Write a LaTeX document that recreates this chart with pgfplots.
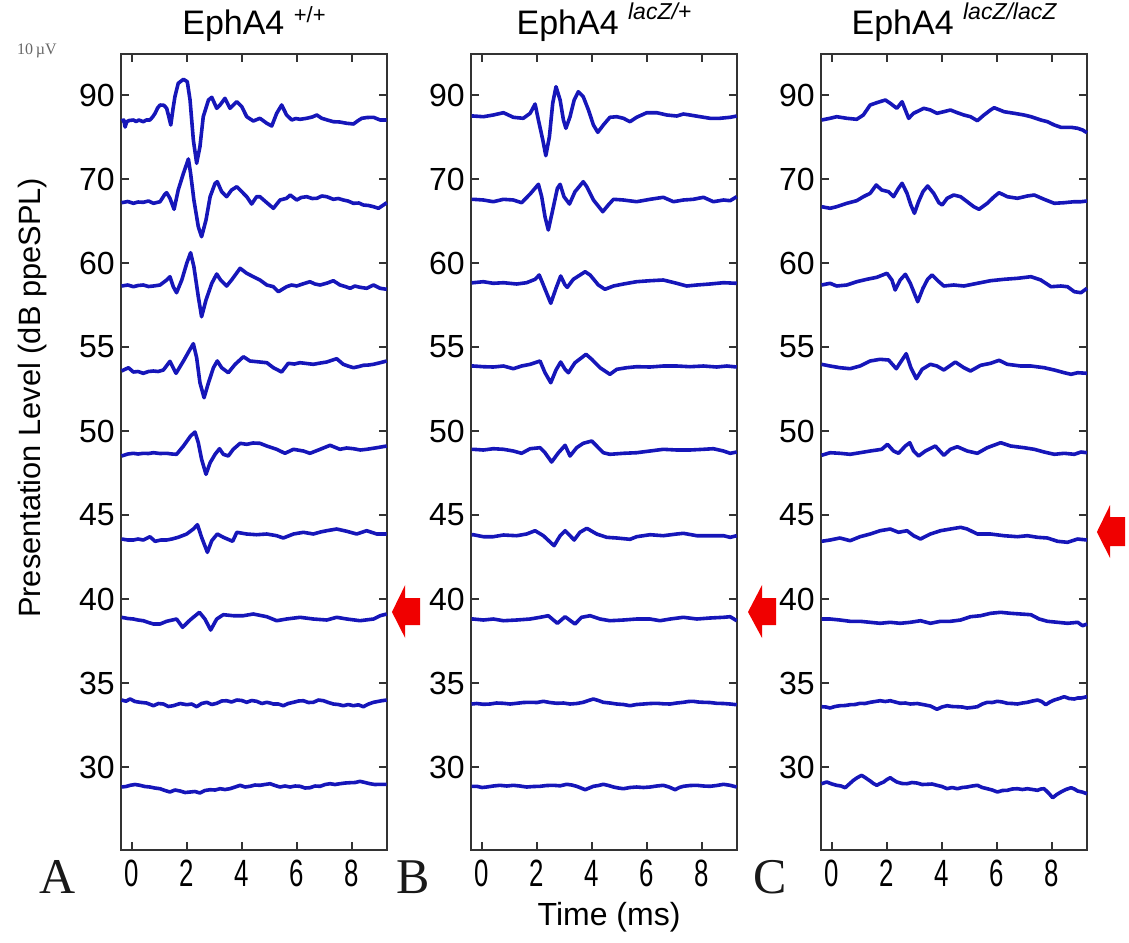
\documentclass[border=0pt]{standalone}
\usepackage{pgfplots}
\pgfplotsset{compat=1.18}
\usepackage{fontspec}
\setmainfont{Liberation Sans}
\newfontfamily\serif{Liberation Serif}
\definecolor{trace}{RGB}{22,22,185}
\definecolor{arrowred}{RGB}{240,0,0}
\newcommand{\sq}[1]{\scalebox{0.68}[1]{#1}}

\pgfplotsset{
  abr/.style={
    width=133pt, height=398pt, scale only axis,
    xmin=-0.4, xmax=9.27, ymin=-83, ymax=713,
    xtick={0,2,4,6,8},
    xticklabels={\sq{0},\sq{2},\sq{4},\sq{6},\sq{8}},
    ytick={0,84,168,252,336,420,504,588,672},
    yticklabels={30,35,40,45,50,55,60,70,90},
    tick align=inside, tick pos=both,
    major tick length=4pt,
    axis line style={black!80, line width=0.8pt},
    tick style={black!80, line width=0.7pt},
    xticklabel style={font=\fontsize{19}{22}\selectfont, inner sep=0pt, yshift=-5pt},
    yticklabel style={font=\fontsize{16}{19}\selectfont, inner sep=0pt, xshift=-3pt},
    title style={at={(0.5,1)}, anchor=base, yshift=4pt, font=\fontsize{17}{20}\selectfont},
    clip=false,
  },
  lvl/.style={color=trace, line width=1.8pt, line join=round, mark=none, y filter/.expression={y+#1}},
}

\begin{document}
\begin{tikzpicture}
\useasboundingbox (0,0) rectangle (564.5pt,-471pt);

% ---- panel A: EphA4 +/+
\begin{axis}[abr, name=A, at={(60.5pt,-27pt)}, anchor=north west,
  title={EphA4 \raisebox{6pt}{\fontsize{11}{13}\selectfont +/+}},
  ylabel={Presentation Level (dB ppeSPL)},
  ylabel style={at={(axis description cs:-0.331,0.568)}, anchor=center, font=\fontsize{15.4}{18}\selectfont},
]
\addplot[lvl=672] coordinates {(-0.38,-26)(-0.3,-25)(-0.25,-32)(-0.19,-26.7)(-0.1,-25.5)(0.05,-25)(0.15,-26.5)(0.25,-25)(0.41,-26.7)(0.52,-25)(0.65,-25)(0.75,-22)(0.84,-18.3)(0.93,-13)(1.02,-10)(1.16,-10.3)(1.26,-13.3)(1.34,-22)(1.41,-30)(1.49,-14)(1.56,-1.7)(1.68,11.7)(1.87,15.7)(2.01,13.3)(2.11,-5)(2.23,-45)(2.35,-68.3)(2.47,-51.7)(2.59,-21.7)(2.78,-5)(2.90,-2.3)(3.08,-13.3)(3.20,-10)(3.38,-3.3)(3.56,-13.3)(3.81,-6.7)(3.99,-11.7)(4.17,-21.7)(4.41,-26)(4.65,-23.3)(4.90,-28.3)(5.08,-31)(5.26,-18.3)(5.44,-10)(5.62,-20)(5.81,-25)(5.95,-23.5)(6.11,-24.3)(6.35,-23.3)(6.55,-22)(6.72,-20)(6.90,-23.3)(7.1,-25)(7.32,-26.7)(7.55,-27)(7.81,-28.3)(8.05,-29)(8.2,-26)(8.35,-23.3)(8.55,-22.5)(8.78,-22.3)(9.02,-25)(9.26,-25)};
\addplot[lvl=588] coordinates {(-0.38,-23.7)(-0.15,-22.5)(0.05,-24.3)(0.22,-23)(0.41,-23.3)(0.6,-22)(0.78,-24.3)(1.02,-22.7)(1.20,-15)(1.26,-13.7)(1.38,-19.3)(1.53,-30.3)(1.68,-11)(1.87,5.7)(2.05,20)(2.13,5.7)(2.25,-21)(2.41,-47.7)(2.53,-57.7)(2.69,-41)(2.84,-17.7)(3.02,-4.3)(3.10,-2.7)(3.26,-12.7)(3.44,-17.7)(3.62,-11)(3.81,-7.7)(3.99,-12.7)(4.17,-17.7)(4.35,-25)(4.53,-17.7)(4.65,-17.7)(4.90,-23.7)(5.14,-29.3)(5.38,-21)(5.62,-19.3)(5.75,-16)(5.99,-21)(6.15,-18.5)(6.35,-17.7)(6.55,-19.5)(6.72,-19.3)(6.9,-17)(7.08,-17.7)(7.32,-20.3)(7.5,-19.5)(7.68,-21)(7.85,-22)(8.05,-24.3)(8.25,-24)(8.41,-26)(8.6,-26.5)(8.78,-27.7)(8.96,-29.3)(9.14,-26)(9.26,-23.7)};
\addplot[lvl=504] coordinates {(-0.38,-23)(-0.15,-22)(0.05,-23.7)(0.22,-22.5)(0.41,-22)(0.6,-23.5)(0.78,-23)(1.02,-22)(1.26,-17)(1.38,-13.7)(1.50,-23.7)(1.62,-29.7)(1.81,-17)(1.99,-0.3)(2.13,10.3)(2.25,-3.7)(2.41,-33.7)(2.53,-53.7)(2.69,-37)(2.90,-20.3)(3.08,-11)(3.22,-17)(3.44,-23)(3.62,-17)(3.93,-5.3)(4.17,-10.3)(4.41,-13.7)(4.65,-17)(4.90,-22)(5.14,-23.7)(5.32,-28.7)(5.62,-23.7)(5.8,-22)(5.99,-23)(6.2,-21)(6.47,-18.7)(6.65,-21)(6.84,-22)(7.1,-20)(7.32,-17.7)(7.56,-22)(7.75,-23.5)(7.93,-25.3)(8.1,-23)(8.29,-24.3)(8.53,-25.3)(8.78,-22)(9.02,-25.3)(9.26,-26.3)};
\addplot[lvl=420] coordinates {(-0.38,-24)(-0.13,-20.7)(0.05,-25)(0.22,-24.5)(0.41,-26.3)(0.6,-24.5)(0.78,-24)(0.95,-24.5)(1.14,-23)(1.38,-14.3)(1.60,-26.3)(1.87,-14)(2.11,-2.3)(2.23,3.3)(2.35,-10.7)(2.47,-35.7)(2.62,-50.7)(2.78,-35.7)(2.96,-20.7)(3.10,-14)(3.26,-20.7)(3.50,-25.7)(3.75,-17.3)(4.05,-9.7)(4.29,-14)(4.65,-15)(4.90,-15.7)(5.14,-20.7)(5.44,-25)(5.68,-16.3)(5.9,-17)(6.11,-15.7)(6.35,-16.5)(6.59,-17.3)(6.85,-16)(7.08,-15)(7.44,-11.7)(7.68,-17.3)(7.85,-19)(8.05,-20.7)(8.25,-19.5)(8.41,-18.3)(8.6,-18)(8.78,-17.3)(9.02,-15.7)(9.26,-14)};
\addplot[lvl=336] coordinates {(-0.38,-25)(-0.15,-23)(0.05,-22.3)(0.22,-23)(0.41,-22.3)(0.6,-22.5)(0.78,-21.7)(1.02,-22.5)(1.26,-22.3)(1.45,-23)(1.62,-23.3)(1.87,-15)(2.13,-5)(2.29,-1)(2.41,-11.7)(2.53,-28.3)(2.69,-43.3)(2.84,-31.7)(3.02,-23.3)(3.18,-17.7)(3.32,-23.3)(3.50,-25)(3.68,-18.3)(3.93,-12.3)(4.17,-13.3)(4.4,-12)(4.65,-12.3)(4.90,-15)(5.26,-18.3)(5.56,-22.3)(5.87,-18.3)(6.23,-20)(6.47,-22.3)(6.84,-18.3)(7.20,-14.3)(7.56,-18.3)(7.8,-17)(8.05,-17.7)(8.3,-19)(8.53,-18.3)(8.90,-16.7)(9.26,-15)};
\addplot[lvl=252] coordinates {(-0.38,-24)(-0.15,-25)(0.05,-25)(0.22,-24)(0.41,-25)(0.65,-21.7)(0.84,-26.3)(1.05,-25)(1.26,-25)(1.45,-24)(1.68,-22.3)(1.99,-19)(2.23,-14)(2.38,-9.7)(2.53,-22.3)(2.74,-37.3)(2.90,-25.7)(3.10,-19)(3.32,-22.3)(3.66,-26.3)(3.81,-17.3)(4.17,-19)(4.53,-19.7)(4.90,-19)(5.26,-20.7)(5.50,-23)(5.87,-19)(6.23,-17.3)(6.59,-19)(6.85,-17)(7.08,-15.7)(7.44,-14)(7.81,-16.3)(8.17,-19)(8.53,-15.7)(8.90,-19)(9.26,-19)};
\addplot[lvl=168] coordinates {(-0.38,-18.3)(-0.15,-19.5)(0.05,-20)(0.22,-21)(0.41,-21.7)(0.6,-23.5)(0.78,-25)(1.02,-25)(1.26,-22.3)(1.62,-20)(1.84,-28.3)(2.11,-21)(2.45,-13.3)(2.65,-20)(2.86,-31)(3.08,-20)(3.32,-15.7)(3.68,-16.7)(4.05,-16.7)(4.41,-15)(4.90,-17.7)(5.26,-21.7)(5.62,-20)(6.11,-18.3)(6.59,-20)(7.08,-21)(7.44,-18.3)(7.81,-20)(8.29,-21.7)(8.78,-20)(9.02,-16.7)(9.26,-15)};
\addplot[lvl=84] coordinates {(-0.38,-17)(-0.22,-18.2)(-0.07,-16)(0.11,-18.5)(0.29,-19.3)(0.53,-20)(0.78,-22.7)(0.96,-20.5)(1.14,-21)(1.32,-23.5)(1.50,-22.7)(1.75,-20.5)(1.99,-21.7)(2.17,-21)(2.35,-23.7)(2.53,-20.5)(2.72,-19.3)(2.9,-21.5)(3.08,-20.3)(3.26,-18)(3.44,-17.7)(3.62,-19)(3.81,-17)(3.99,-17.5)(4.17,-19.3)(4.35,-17.5)(4.53,-18.3)(4.72,-20.5)(4.90,-19.3)(5.02,-20)(5.14,-21)(5.32,-21)(5.50,-22.7)(5.68,-20.5)(5.87,-19.3)(6.05,-18)(6.23,-17.7)(6.41,-19.5)(6.59,-19.3)(6.78,-17)(6.96,-17.7)(7.14,-19.5)(7.32,-21)(7.5,-21.5)(7.68,-22.7)(7.86,-21.5)(8.05,-22.7)(8.23,-21.8)(8.41,-23.7)(8.6,-21)(8.78,-19.3)(8.93,-18.5)(9.08,-17.7)(9.26,-17)};
\addplot[lvl=0] coordinates {(-0.38,-20)(-0.22,-19.5)(-0.07,-18.3)(0.11,-17.5)(0.29,-18.3)(0.47,-19.5)(0.65,-20)(0.83,-21)(1.02,-21.7)(1.2,-23.5)(1.38,-25)(1.56,-23)(1.75,-24)(1.93,-25.5)(2.11,-25)(2.29,-24.5)(2.47,-26)(2.65,-23.5)(2.84,-22.7)(3.02,-23)(3.20,-21.7)(3.38,-22.5)(3.56,-21.7)(3.75,-20)(3.93,-18.3)(4.11,-20)(4.29,-19.3)(4.47,-18)(4.65,-18.3)(4.83,-17.5)(5.02,-16.7)(5.2,-18.5)(5.38,-20)(5.56,-19)(5.75,-20)(5.93,-19)(6.11,-19.3)(6.29,-21)(6.47,-20.7)(6.65,-19)(6.84,-19.3)(7.02,-17.5)(7.20,-16.7)(7.38,-17.5)(7.56,-16.7)(7.75,-16)(7.93,-15.7)(8.11,-15.5)(8.29,-14.3)(8.47,-15.5)(8.65,-16.7)(8.83,-17.5)(9.02,-17.3)(9.26,-17.3)};
\fill[arrowred] (axis cs:9.45,155) -- (axis cs:9.93,182) -- (axis cs:9.93,169) -- (axis cs:10.47,169) -- (axis cs:10.47,142) -- (axis cs:9.93,142) -- (axis cs:9.93,129) -- cycle;
\node[font=\serif\fontsize{25}{28}\selectfont, text=black!90] at (axis description cs:-0.237,-0.034) {A};
\node[font=\serif\fontsize{8}{9}\selectfont, text=black!60] at (axis description cs:-0.316,1.004) {10\,µV};
\end{axis}

% ---- panel B: EphA4 lacZ/+
\begin{axis}[abr, name=B, at={(235.5pt,-27pt)}, anchor=north west,
  title={EphA4 \raisebox{7.5pt}{\fontsize{11.5}{13}\selectfont\itshape lacZ/+}},
  xlabel={Time (ms)},
  xlabel style={at={(axis description cs:0.519,-0.0842)}, anchor=center, font=\fontsize{16}{19}\selectfont},
]
\addplot[lvl=672] coordinates {(-0.38,-21)(-0.32,-21)(0.05,-21.7)(0.41,-20)(0.78,-17.7)(1.14,-22.3)(1.50,-23.3)(1.75,-18.3)(1.93,-9)(2.05,-25)(2.21,-45)(2.32,-60.7)(2.45,-41.7)(2.57,-8.3)(2.69,8.3)(2.84,-5)(2.96,-25)(3.05,-33.3)(3.20,-21.7)(3.35,-5)(3.50,3.3)(3.68,-1.7)(3.87,-15)(4.05,-30)(4.21,-37.3)(4.41,-30)(4.65,-22.3)(4.90,-21.7)(5.14,-23.3)(5.38,-26.7)(5.62,-22.3)(5.99,-17.7)(6.35,-17.7)(6.72,-20)(7.08,-21)(7.32,-19)(7.56,-20)(7.93,-21.7)(8.29,-23.3)(8.65,-23.3)(9.02,-22.3)(9.26,-21)};
\addplot[lvl=588] coordinates {(-0.38,-20.3)(-0.32,-20.3)(0.05,-21)(0.41,-22.7)(0.78,-20.3)(1.14,-21)(1.44,-23.7)(1.75,-15)(2.05,-5.3)(2.17,-17.7)(2.29,-37.7)(2.41,-51)(2.57,-31)(2.74,-9.3)(2.84,-5.3)(2.98,-17.7)(3.18,-25)(3.38,-12.7)(3.68,-2.7)(3.81,-7.7)(4.05,-21)(4.39,-32.7)(4.59,-26)(4.78,-20.3)(5.14,-21)(5.62,-22.7)(6.11,-20.3)(6.59,-18.3)(6.96,-22.7)(7.32,-21)(7.68,-20.3)(8.05,-18.3)(8.41,-22.7)(8.78,-21)(9.02,-21.7)(9.26,-17.7)};
\addplot[lvl=504] coordinates {(-0.38,-19.7)(-0.32,-19.7)(0.05,-18.7)(0.41,-20.3)(0.78,-19.7)(1.26,-21)(1.62,-19.7)(1.93,-16.3)(2.08,-12)(2.23,-22)(2.50,-40.3)(2.69,-25.3)(2.86,-13)(3.02,-22)(3.10,-24.3)(3.32,-16.3)(3.75,-8.7)(3.93,-12)(4.23,-22)(4.47,-26.3)(4.78,-23)(5.14,-21)(5.62,-18.7)(6.11,-17.7)(6.59,-17)(7.08,-20.3)(7.44,-23)(7.81,-22)(8.29,-21)(8.78,-19.7)(9.26,-20.3)};
\addplot[lvl=420] coordinates {(-0.38,-19)(-0.32,-19)(0.05,-19.7)(0.41,-20)(0.78,-19)(1.14,-21.7)(1.44,-19)(1.75,-17.3)(2.11,-14)(2.29,-25.7)(2.50,-35.7)(2.69,-23)(2.86,-15)(3.02,-22.3)(3.14,-25.7)(3.38,-15.7)(3.62,-10.7)(3.78,-7.3)(3.99,-12.3)(4.29,-20.7)(4.65,-27.3)(4.90,-22.3)(5.26,-20.7)(5.62,-19.7)(6.11,-20)(6.59,-19)(7.08,-19)(7.56,-19.7)(8.05,-19)(8.53,-20)(8.90,-19)(9.26,-20)};
\addplot[lvl=336] coordinates {(-0.38,-18.3)(-0.32,-18.3)(0.05,-19)(0.41,-17.7)(0.78,-18.3)(1.14,-20)(1.44,-22.3)(1.75,-17.7)(2.11,-16.7)(2.29,-21.7)(2.53,-31)(2.78,-21.7)(3.02,-14.3)(3.20,-25)(3.44,-16.7)(3.68,-12.3)(3.99,-10)(4.17,-15)(4.41,-21.7)(4.65,-23.3)(5.14,-22.3)(5.62,-21.7)(6.11,-20)(6.59,-18.3)(7.08,-19)(7.56,-19)(8.05,-18.3)(8.41,-17.7)(8.78,-20)(9.02,-22.3)(9.26,-21)};
\addplot[lvl=252] coordinates {(-0.38,-19.7)(-0.32,-19.7)(0.05,-21.7)(0.41,-21.7)(0.78,-20)(1.26,-20.7)(1.62,-19)(1.93,-15.7)(2.23,-20.7)(2.62,-30.7)(2.84,-20.7)(3.02,-15.7)(3.20,-20.7)(3.35,-25)(3.56,-17.3)(3.81,-13.3)(4.17,-19)(4.53,-22.3)(4.90,-23)(5.38,-24.3)(5.62,-21.7)(6.11,-19.7)(6.59,-20.7)(7.08,-19)(7.32,-18.3)(7.81,-20.7)(8.29,-20.7)(8.78,-20.7)(9.02,-22.3)(9.26,-20.7)};
\addplot[lvl=168] coordinates {(-0.38,-20)(-0.32,-20)(0.05,-21)(0.41,-20)(0.78,-21.7)(1.26,-21)(1.75,-20)(2.11,-18.3)(2.41,-16.7)(2.74,-24.3)(3.02,-17.7)(3.38,-25)(3.62,-18.3)(3.93,-16.7)(4.29,-20)(4.65,-21.7)(5.14,-21)(5.62,-20)(6.11,-20)(6.47,-21.7)(6.84,-20)(7.32,-18.3)(7.81,-20)(8.29,-19)(8.78,-18.3)(9.02,-17.7)(9.26,-21.7)};
\addplot[lvl=84] coordinates {(-0.38,-21)(-0.19,-20.5)(0.05,-21.3)(0.29,-21)(0.53,-20)(0.78,-20.3)(1.02,-21)(1.26,-20.3)(1.5,-19.5)(1.75,-19.3)(2.0,-19.5)(2.23,-18.3)(2.47,-19.5)(2.72,-20.3)(2.96,-20)(3.20,-21)(3.44,-20.5)(3.68,-19.3)(3.87,-17.5)(4.05,-16)(4.23,-17.5)(4.41,-19.3)(4.65,-20)(4.90,-21)(5.14,-21.5)(5.38,-22.7)(5.62,-21.5)(5.87,-21)(6.11,-20.5)(6.35,-20.3)(6.6,-20.8)(6.84,-21)(7.08,-20)(7.32,-19.3)(7.5,-18.5)(7.68,-18.3)(7.86,-19)(8.05,-19.3)(8.29,-19.5)(8.53,-20.3)(8.78,-20.5)(9.02,-21)(9.26,-21.7)};
\addplot[lvl=0] coordinates {(-0.38,-19.3)(-0.19,-19.3)(0.0,-20.5)(0.17,-20)(0.41,-19)(0.65,-18.3)(0.9,-19)(1.14,-18.3)(1.38,-19)(1.62,-20)(1.87,-19.5)(2.11,-19.3)(2.35,-18.5)(2.59,-18.3)(2.84,-18.8)(3.08,-17.3)(3.26,-18)(3.44,-19.3)(3.6,-21)(3.75,-22.7)(3.9,-21)(4.05,-19.3)(4.23,-18.5)(4.41,-17.3)(4.6,-18.5)(4.78,-20)(4.96,-21)(5.14,-21.7)(5.38,-20.5)(5.62,-20)(5.87,-20.5)(6.11,-20)(6.35,-19)(6.59,-18.3)(6.8,-20)(7.02,-22.7)(7.17,-20.5)(7.32,-19.3)(7.56,-18.5)(7.81,-18.3)(8.05,-19)(8.29,-19.3)(8.53,-18.5)(8.78,-17.3)(9.02,-18.3)(9.26,-20)};
\fill[arrowred] (axis cs:9.67,155) -- (axis cs:10.18,182) -- (axis cs:10.18,169) -- (axis cs:10.69,169) -- (axis cs:10.69,142) -- (axis cs:10.18,142) -- (axis cs:10.18,129) -- cycle;
\node[font=\serif\fontsize{25}{28}\selectfont, text=black!90] at (axis description cs:-0.218,-0.034) {B};
\end{axis}

% ---- panel C: EphA4 lacZ/lacZ
\begin{axis}[abr, name=C, at={(410.5pt,-27pt)}, anchor=north west, xmax=9.28,
  title={EphA4 \raisebox{7.5pt}{\fontsize{11.5}{13}\selectfont\itshape lacZ/lacZ}},
]
\addplot[lvl=672] coordinates {(-0.38,-25)(-0.07,-23.3)(0.17,-21.7)(0.54,-23.3)(0.90,-24.3)(1.14,-20)(1.39,-10)(1.63,-7.7)(1.94,-5)(2.12,-8.3)(2.36,-13.3)(2.55,-6.7)(2.79,-23.3)(2.97,-18.3)(3.34,-13.3)(3.58,-15)(3.82,-18.3)(4.07,-16.7)(4.31,-15)(4.56,-17.7)(4.80,-20)(5.04,-21.7)(5.29,-25.7)(5.53,-20)(5.77,-15)(5.90,-12.7)(6.26,-16.7)(6.63,-18.3)(6.99,-20)(7.24,-21.7)(7.60,-25)(7.84,-26.7)(8.09,-30)(8.33,-32.3)(8.70,-32.3)(8.94,-33.3)(9.12,-35)(9.28,-37.7)};
\addplot[lvl=588] coordinates {(-0.38,-27.7)(-0.07,-29.3)(0.17,-27.7)(0.54,-24.3)(0.90,-21.7)(1.14,-17.7)(1.39,-14.3)(1.61,-6)(1.81,-11)(2.06,-12.7)(2.24,-17.7)(2.42,-9.3)(2.55,-4.3)(2.73,-14.3)(2.87,-26)(3.00,-34.3)(3.15,-22.7)(3.31,-12.7)(3.48,-7)(3.70,-14.3)(3.89,-23.7)(4.01,-26)(4.19,-19.3)(4.43,-16)(4.68,-17.7)(4.92,-22.7)(5.16,-27.7)(5.35,-30.3)(5.65,-24.3)(5.90,-17.7)(6.08,-13.7)(6.38,-17.7)(6.75,-19.3)(7.11,-17)(7.36,-16)(7.72,-20.3)(8.09,-24.3)(8.45,-23.7)(8.82,-22.7)(9.06,-22.7)(9.28,-22)};
\addplot[lvl=504] coordinates {(-0.38,-22)(-0.07,-20.3)(0.17,-23)(0.54,-22)(0.90,-18.7)(1.27,-16.3)(1.63,-14.3)(2.00,-10.3)(2.18,-17)(2.30,-27)(2.48,-17)(2.67,-11.3)(2.85,-20.3)(3.12,-38.7)(3.31,-25.3)(3.48,-16.3)(3.64,-12)(3.89,-18.7)(4.07,-23)(4.43,-22)(4.80,-23)(5.29,-20.3)(5.77,-17.7)(6.26,-16.3)(6.75,-15.3)(7.24,-13.7)(7.60,-17)(7.97,-23.7)(8.33,-23)(8.57,-23.7)(8.82,-28.7)(9.06,-29.7)(9.28,-25.3)};
\addplot[lvl=420] coordinates {(-0.38,-17.3)(-0.07,-19)(0.29,-20.7)(0.66,-21.7)(1.02,-19)(1.39,-14)(1.75,-12.3)(2.06,-13)(2.34,-21.7)(2.70,-6.7)(2.87,-20.7)(3.07,-31.7)(3.28,-22.3)(3.58,-17.3)(3.82,-19)(4.07,-23)(4.49,-15)(4.80,-20.7)(5.04,-24)(5.41,-18.3)(5.77,-16.3)(6.08,-13.3)(6.38,-17.3)(6.87,-19)(7.24,-19)(7.72,-20.7)(8.09,-23)(8.45,-25.7)(8.70,-27.3)(8.94,-25.7)(9.28,-26.3)};
\addplot[lvl=336] coordinates {(-0.38,-24.3)(-0.07,-21.7)(0.29,-22.3)(0.66,-23.3)(1.02,-21.7)(1.39,-20)(1.81,-18.3)(2.02,-13.3)(2.24,-20)(2.42,-22.3)(2.67,-15)(2.83,-11.7)(2.97,-20)(3.15,-25)(3.40,-20)(3.76,-15)(4.07,-24.3)(4.31,-18.3)(4.56,-15.7)(4.92,-20)(5.29,-22.3)(5.65,-16.7)(6.14,-11.7)(6.50,-15)(6.99,-16.7)(7.36,-18.3)(7.72,-21)(8.09,-23.3)(8.45,-22.3)(8.82,-23.3)(9.06,-21)(9.28,-21.7)};
\addplot[lvl=252] coordinates {(-0.38,-26.3)(-0.07,-25)(0.29,-23)(0.66,-25.7)(1.02,-21.7)(1.39,-19)(1.75,-15.7)(2.12,-14)(2.42,-17.3)(2.73,-15.7)(2.97,-20.7)(3.22,-24)(3.58,-19)(3.95,-15.7)(4.31,-14)(4.68,-12.3)(4.92,-14)(5.29,-19)(5.77,-19)(6.26,-20.7)(6.75,-21.7)(7.11,-20.7)(7.48,-22.3)(7.84,-23)(8.21,-26.3)(8.57,-27.3)(8.94,-24)(9.28,-25)};
\addplot[lvl=168] coordinates {(-0.38,-20)(-0.07,-20)(0.29,-21)(0.66,-22.3)(1.02,-22.3)(1.39,-23.3)(1.75,-24.3)(2.12,-23.3)(2.48,-24.3)(2.85,-23.3)(3.22,-21.7)(3.58,-24.3)(3.95,-22.3)(4.31,-22.3)(4.68,-21)(5.04,-17.7)(5.41,-16.7)(5.77,-14.3)(6.14,-13.3)(6.50,-14.3)(6.87,-15)(7.24,-15.7)(7.54,-20)(7.84,-22.3)(8.21,-23.3)(8.57,-24.3)(8.94,-23.3)(9.12,-26.7)(9.28,-25)};
\addplot[lvl=84] coordinates {(-0.38,-23.7)(-0.22,-24)(-0.07,-25)(0.11,-23.5)(0.29,-22.7)(0.48,-22.5)(0.66,-21.7)(0.84,-21.5)(1.02,-20.3)(1.2,-20.5)(1.39,-19.3)(1.57,-18.5)(1.75,-17.7)(1.94,-18.5)(2.12,-17.7)(2.3,-19)(2.48,-20.3)(2.67,-20)(2.85,-21)(3.1,-20.5)(3.34,-21.7)(3.58,-23)(3.82,-26.3)(4.0,-24)(4.19,-22.7)(4.37,-23.5)(4.56,-23.7)(4.74,-24)(4.92,-25)(5.1,-24.5)(5.29,-23.7)(5.47,-21)(5.65,-19.3)(5.83,-19.5)(6.02,-18.3)(6.2,-19)(6.38,-20.3)(6.56,-20.5)(6.75,-21)(6.93,-20)(7.11,-19.3)(7.3,-18)(7.48,-17)(7.63,-18.5)(7.78,-21.7)(7.93,-19)(8.09,-17)(8.27,-15.5)(8.45,-13.7)(8.63,-15.5)(8.82,-16)(8.94,-15)(9.06,-15)(9.28,-13.7)};
\addplot[lvl=0] coordinates {(-0.38,-16.7)(-0.19,-15)(0.0,-17)(0.17,-18.3)(0.33,-19)(0.48,-20.7)(0.63,-17)(0.78,-13.3)(0.93,-10.5)(1.08,-8.3)(1.23,-11)(1.39,-14)(1.51,-16.5)(1.63,-18.3)(1.75,-16.5)(1.88,-15)(2.0,-12.5)(2.12,-10.7)(2.24,-13)(2.36,-15)(2.55,-16.5)(2.73,-16.7)(2.91,-15.5)(3.09,-16)(3.28,-17.5)(3.46,-17.3)(3.64,-17)(3.82,-18.3)(4.0,-19.5)(4.19,-21.7)(4.37,-20.5)(4.56,-21.7)(4.74,-20.5)(4.92,-20)(5.1,-19)(5.29,-18.3)(5.47,-20.5)(5.65,-21.7)(5.83,-23)(6.02,-25)(6.2,-23.5)(6.38,-23.3)(6.56,-22)(6.75,-21.7)(6.93,-22.5)(7.11,-21.7)(7.3,-22.5)(7.48,-23.3)(7.6,-22)(7.72,-21.7)(7.88,-26)(8.03,-30.7)(8.18,-27.5)(8.33,-25)(8.51,-22.5)(8.70,-20.7)(8.82,-22)(8.94,-24)(9.1,-25)(9.28,-26.7)};
\fill[arrowred] (axis cs:9.64,235) -- (axis cs:10.12,262) -- (axis cs:10.12,250) -- (axis cs:10.67,250) -- (axis cs:10.67,221) -- (axis cs:10.12,221) -- (axis cs:10.12,209) -- cycle;
\node[font=\serif\fontsize{25}{28}\selectfont, text=black!90] at (axis description cs:-0.192,-0.034) {C};
\end{axis}
\end{tikzpicture}
\end{document}
